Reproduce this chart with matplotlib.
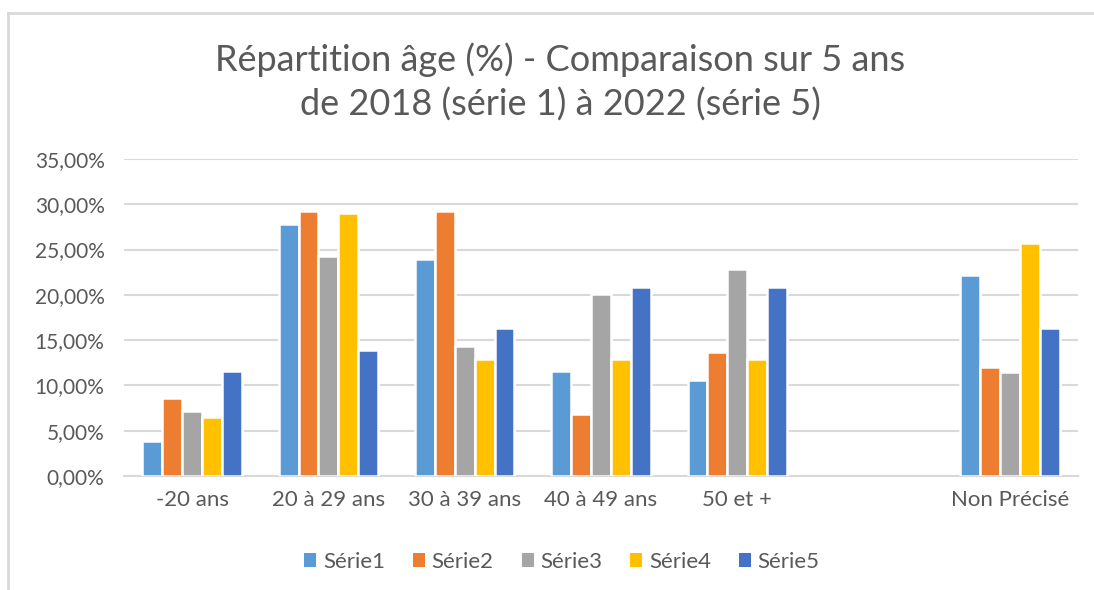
import numpy as np
import matplotlib
matplotlib.use("Agg")
import matplotlib.pyplot as plt
from matplotlib.patches import Patch
from matplotlib.lines import Line2D
from matplotlib.ticker import FuncFormatter

plt.rcParams['font.family'] = ['Lato', 'DejaVu Sans']

categories = ["-20 ans", "20 à 29 ans", "30 à 39 ans", "40 à 49 ans", "50 et +", "", "Non Précisé"]
serie1 = [3.9, 27.85, 24.0, 11.6, 10.6, np.nan, 22.15]
serie2 = [8.6, 29.3, 29.3, 6.9, 13.7, np.nan, 12.0]
serie3 = [7.2, 24.3, 14.3, 20.05, 22.85, np.nan, 11.5]
serie4 = [6.5, 29.0, 12.9, 12.9, 12.9, np.nan, 25.7]
serie5 = [11.6, 13.9, 16.3, 20.9, 20.9, np.nan, 16.3]
series_names = ["Série1", "Série2", "Série3", "Série4", "Série5"]
colors = ["#5B9BD5", "#ED7D31", "#A5A5A5", "#FFC000", "#4472C4"]
title = "Répartition âge (%) - Comparaison sur 5 ans\nde 2018 (série 1) à 2022 (série 5)"

W, H = 1094, 590
fig = plt.figure(figsize=(W / 100, H / 100), dpi=100)
ax = fig.add_axes([124 / W, (H - 476) / H, (1078 - 124) / W, (476 - 159) / H])

x = np.arange(len(categories))
slot = 0.146
data = [serie1, serie2, serie3, serie4, serie5]
for i, (vals, c, n) in enumerate(zip(data, colors, series_names)):
    v = np.array(vals, dtype=float) / 100.0
    ax.bar(x + (i - 2) * slot, v, width=slot, color=c, edgecolor="white",
           linewidth=1.8, label=n, zorder=3)

ax.set_xlim(-0.5, len(categories) - 0.5)
ax.set_ylim(0, 0.35)
ax.set_yticks(np.arange(0, 0.351, 0.05))
ax.yaxis.set_major_formatter(FuncFormatter(lambda v, p: f"{v*100:.2f}%".replace(".", ",")))
ax.set_xticks(x)
ax.set_xticklabels(categories)
ax.tick_params(axis="both", length=0, colors="#595959")
ax.tick_params(axis="y", labelsize=15, pad=14)
ax.tick_params(axis="x", labelsize=16, pad=10)
ax.grid(axis="y", color="#d9d9d9", linewidth=1.5, zorder=0)
for s in ["top", "right", "left"]:
    ax.spines[s].set_visible(False)
ax.spines["bottom"].set_color("#d9d9d9")
ax.spines["bottom"].set_linewidth(1.5)

fig.text(560 / W, 1 - 82 / H, title, ha="center", va="center", fontsize=26,
         color="#595959", linespacing=1.36)

handles = [Patch(facecolor=c, edgecolor="none") for c in colors]
fig.legend(handles, series_names, loc="center", bbox_to_anchor=(562 / W, 1 - 562 / H),
           ncol=5, frameon=False, fontsize=16, labelcolor="#595959",
           handlelength=0.55, handleheight=0.55, handletextpad=0.3, columnspacing=1.25)

# chart frame
fig.add_artist(Line2D([8 / W, 8 / W], [0, 1 - 13 / H], color="#d9d9d9", linewidth=2,
                      transform=fig.transFigure))
fig.add_artist(Line2D([8 / W, 1], [1 - 13 / H, 1 - 13 / H], color="#d9d9d9", linewidth=2,
                      transform=fig.transFigure))

fig.savefig("out.png", dpi=100)
